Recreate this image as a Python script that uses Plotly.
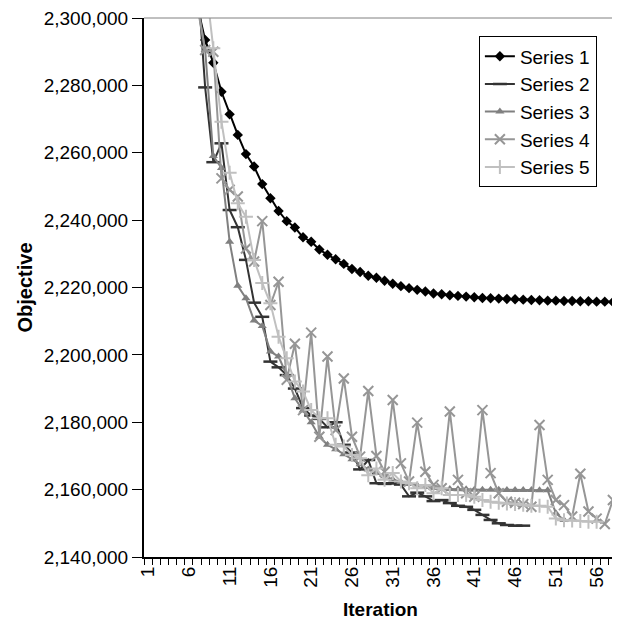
import plotly.graph_objects as go

iterations = list(range(1, 59))
tick_vals = [1, 6, 11, 16, 21, 26, 31, 36, 41, 46, 51, 56]
tick_text = [str(v) for v in tick_vals]
y_ticks = [2140000, 2160000, 2180000, 2200000, 2220000, 2240000, 2260000, 2280000, 2300000]

series1 = [2480000, 2420000, 2385000, 2355000, 2333000, 2316000, 2304000,
           2293500, 2286700, 2278100, 2271400, 2265300, 2259600, 2255900, 2250700,
           2246500, 2242700, 2239700, 2237800, 2234900, 2233600, 2231300, 2229700,
           2228400, 2227000, 2225500, 2224600, 2223500, 2222900, 2222000, 2221100,
           2220400, 2219800, 2219300, 2218800, 2218200, 2218000, 2217700, 2217500,
           2217300, 2217100, 2216900, 2216800, 2216700, 2216600, 2216500, 2216400,
           2216300, 2216200, 2216100, 2216100, 2216000, 2216000, 2215900, 2215900,
           2215800, 2215800, 2215700]

series2 = [2500000, 2440000, 2400000, 2370000, 2345000, 2328000, 2314000,
           2279400, 2257200, 2262800, 2243000, 2237900, 2228200, 2215500, 2211300,
           2198000, 2196300, 2194000, 2190000, 2184200, 2182000, 2181000, 2178500,
           2180000, 2173300, 2171000, 2166000, 2168800, 2161900, 2161700, 2161900,
           2161500, 2158000, 2159100, 2158000, 2156600, 2156900, 2156000, 2155200,
           2154900, 2154000, 2152500, 2151000, 2150000, 2149500, 2149300, 2149300]

series3 = [2470000, 2410000, 2375000, 2350000, 2330000, 2315000, 2305000,
           2290500, 2259000, 2255500, 2233600, 2220500, 2216800, 2210200, 2208600,
           2201000, 2199500, 2194000, 2187100, 2183500, 2180000, 2175700, 2173300,
           2172000, 2170500, 2169000, 2167500, 2166000, 2165000, 2164000, 2163000,
           2162300, 2161700, 2161200, 2160800, 2160500, 2160300, 2160200, 2160100,
           2160100, 2160000, 2160000, 2160000, 2160000, 2159900, 2159900, 2159900,
           2159900, 2159800, 2159800, 2153000, 2151000]

series4 = [2460000, 2400000, 2370000, 2345000, 2326000, 2312000, 2304000,
           2290500, 2290000, 2252400, 2249000, 2247000, 2231600, 2227700, 2239700,
           2214800, 2221700, 2192600, 2203300, 2183600, 2206600, 2175700, 2199500,
           2177700, 2193000, 2175700, 2169800, 2189300, 2170000, 2165300, 2186600,
           2167800, 2162400, 2179900, 2165300, 2161400, 2160400, 2183200, 2162900,
           2158900, 2157900, 2183600, 2164900, 2158900, 2156400, 2156100, 2155700,
           2154900, 2179200, 2162900, 2156900, 2155400, 2152000, 2164700, 2153500,
           2151400, 2149800, 2156900]

series5 = [2520000, 2460000, 2420000, 2385000, 2360000, 2340000, 2325000, 2311800,
           2291000, 2269200, 2254100, 2245000, 2241000, 2228200, 2221300, 2215300,
           2205400, 2199000, 2192100, 2189100, 2183600, 2181200, 2181200, 2173300,
           2172800, 2170300, 2169300, 2164300, 2166300, 2162900, 2164900, 2162400,
           2161900, 2160400, 2161400, 2158900, 2160400, 2158400, 2158400, 2158400,
           2157900, 2156900, 2156400, 2156100, 2155900, 2155700, 2155500, 2155200,
           2155200, 2154900, 2151400, 2150900, 2150800, 2150700, 2150500, 2150500]

names = ["Series 1", "Series 2", "Series 3", "Series 4", "Series 5"]
all_series = [series1, series2, series3, series4, series5]
colors = ["#000000", "#333333", "#808080", "#969696", "#c0c0c0"]
symbols = ["diamond", "line-ew", "triangle-up", "x-thin", "cross-thin"]
sizes = [8, 10, 8, 10, 10]
mlw = [0, 2.5, 0, 2, 2]

FONT = "Liberation Sans, Arial, sans-serif"

fig = go.Figure()
for name, ys, c, s, sz, lw in zip(names, all_series, colors, symbols, sizes, mlw):
    fig.add_trace(go.Scatter(
        x=iterations[:len(ys)], y=ys, name=name, mode="lines+markers",
        line=dict(color=c, width=2),
        marker=dict(symbol=s, size=sz, color=c, line=dict(color=c, width=lw)),
    ))

# page body has an 8px default margin, so the figure is sized to fit inside it
fig.update_layout(
    width=612, height=618,
    margin=dict(l=136, r=3, t=10, b=69),
    paper_bgcolor="white", plot_bgcolor="white",
    font=dict(family=FONT, size=19, color="#000000"),
    showlegend=True,
    legend=dict(x=0.708, y=0.966, xanchor="left", yanchor="top",
                bordercolor="#000000", borderwidth=1, bgcolor="white",
                font=dict(family=FONT, size=19), itemwidth=30,
                tracegroupgap=0),
    xaxis=dict(
        range=[0.5, 58.5], tickmode="array", tickvals=tick_vals, ticktext=tick_text,
        tickangle=-90, ticks="", showgrid=False, zeroline=False, automargin=False,
        showline=True, linecolor="#000000", linewidth=2,
        minor=dict(tickmode="array", tickvals=[v + 0.5 for v in range(0, 59)],
                   ticks="outside", ticklen=6, tickcolor="#000000", tickwidth=1,
                   showgrid=False),
        title=dict(text="<b>Iteration</b>", font=dict(size=19), standoff=16),
        tickfont=dict(size=19), ticklabeloverflow="allow",
    ),
    yaxis=dict(
        range=[2140000, 2300000], tickmode="array", tickvals=y_ticks,
        tickformat=",d", ticks="outside", ticklen=10, tickcolor="#000000",
        showgrid=False, zeroline=False, automargin=False,
        showline=True, linecolor="#000000", linewidth=2,
        title=dict(text="<b>Objective</b>", font=dict(size=20), standoff=6),
        tickfont=dict(size=19), ticklabeloverflow="allow",
    ),
    shapes=[
        dict(type="line", xref="paper", yref="paper", x0=0, x1=1, y0=1, y1=1,
             line=dict(color="#808080", width=1)),
        dict(type="line", xref="paper", yref="paper", x0=1, x1=1, y0=0, y1=1,
             line=dict(color="#808080", width=1)),
    ],
)

fig.write_html("out.html")
